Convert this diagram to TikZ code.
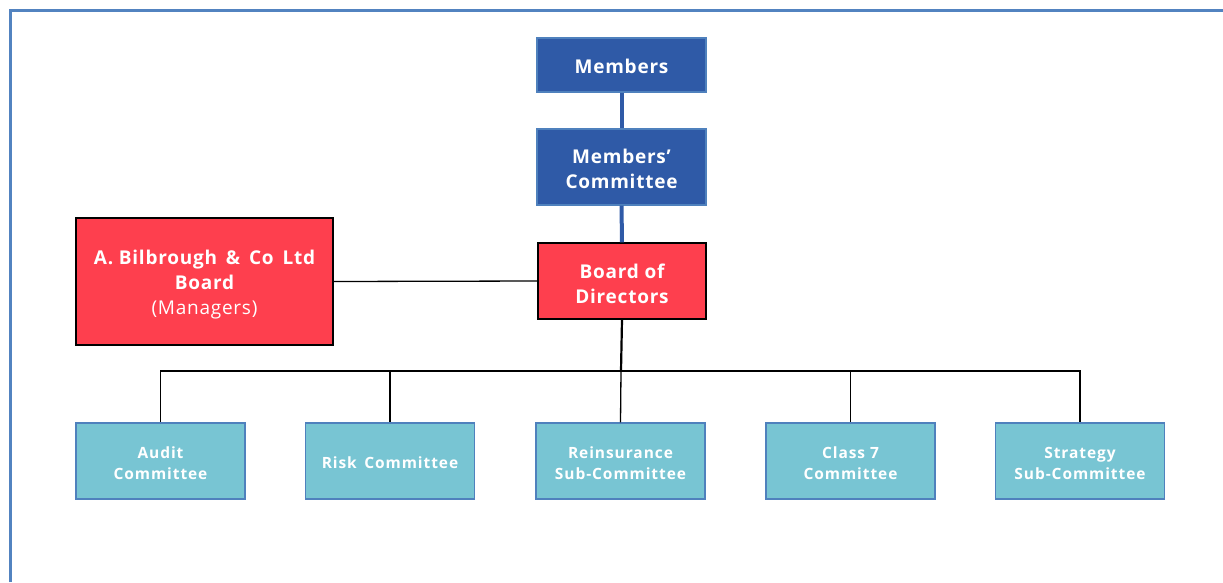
\documentclass[tikz,border=0pt]{standalone}
\usepackage{fontspec}
\setmainfont{Open Sans}
\newfontfamily\widetop[LetterSpace=4]{Open Sans}
\newfontfamily\widebot[LetterSpace=6]{Open Sans}
\newcommand\strutdn[1]{\rule{0pt}{#1}}
\definecolor{dblue}{HTML}{2F5AA7}
\definecolor{lblue}{HTML}{4F81BD}
\definecolor{frm}{HTML}{5283C0}
\definecolor{rred}{HTML}{FE3F4E}
\definecolor{cyanb}{HTML}{78C5D3}
\tikzset{
  topbox/.style={draw=lblue, line width=1.2pt, fill=dblue, text=white, align=center,
    font=\widetop\fontsize{19}{25}\selectfont\bfseries, minimum width=169pt, inner sep=0pt},
  redbox/.style={draw=black, line width=1.2pt, fill=rred, text=white, align=center,
    font=\widetop\fontsize{19}{25}\selectfont, inner sep=0pt},
  combox/.style={draw=lblue, line width=1.2pt, fill=cyanb, text=white, align=center,
    font=\widebot\fontsize{15.5}{20.5}\selectfont\bfseries, minimum width=169pt, minimum height=76pt, inner sep=0pt},
  blueline/.style={draw=dblue, line width=4pt},
  blackline/.style={draw=black, line width=1.3pt}
}
\begin{document}
\begin{tikzpicture}[x=1pt,y=-1pt]
\useasboundingbox (0,0) rectangle (1223,582);
\draw[frm, line width=3pt] (10,582) -- (10,10) -- (1223,10);

\node[topbox, minimum height=54pt] (mem) at (621.5,65) {\strutdn{16.5pt}Members};
\node[topbox, minimum height=76pt] (mc) at (621.5,167) {\strutdn{18.5pt}Members’\\Committee};
\node[redbox, minimum width=168pt, minimum height=76pt, font=\widetop\fontsize{19}{25}\selectfont\bfseries] (brd) at (622,281) {\strutdn{20pt}Board of\\Directors};
\node[redbox, minimum width=257pt, minimum height=127pt] (bil) at (204.5,281.5) {\bfseries \strutdn{21.5pt}A. Bilbrough \,\&\, Co \,Ltd\\\bfseries Board\\(Managers)};

\node[combox] (c1) at (160.5,461) {\strutdn{16pt}Audit\\Committee};
\node[combox] (c2) at (390,461) {\strutdn{16pt}Risk \,Committee};
\node[combox] (c3) at (620.5,461) {\strutdn{16pt}Reinsurance\\Sub-Committee};
\node[combox] (c4) at (850.5,461) {\strutdn{16pt}Class 7\\Committee};
\node[combox] (c5) at (1080,461) {\strutdn{16pt}Strategy\\Sub-Committee};

\draw[blueline] (mem.south) -- (mc.north);
\draw[blueline] (mc.south) -- (brd.north);
\draw[blackline] (bil.east) -- (brd.west);

\coordinate (bus) at (621,371);
\draw[draw=black, line width=2.2pt] (brd.south) -- (bus);
\draw[blackline] (bus) -| (c1.north);
\draw[blackline] (bus) -| (c2.north);
\draw[blackline] (bus) -- (c3.north);
\draw[blackline] (bus) -| (c4.north);
\draw[blackline] (bus) -| (c5.north);
\end{tikzpicture}
\end{document}
